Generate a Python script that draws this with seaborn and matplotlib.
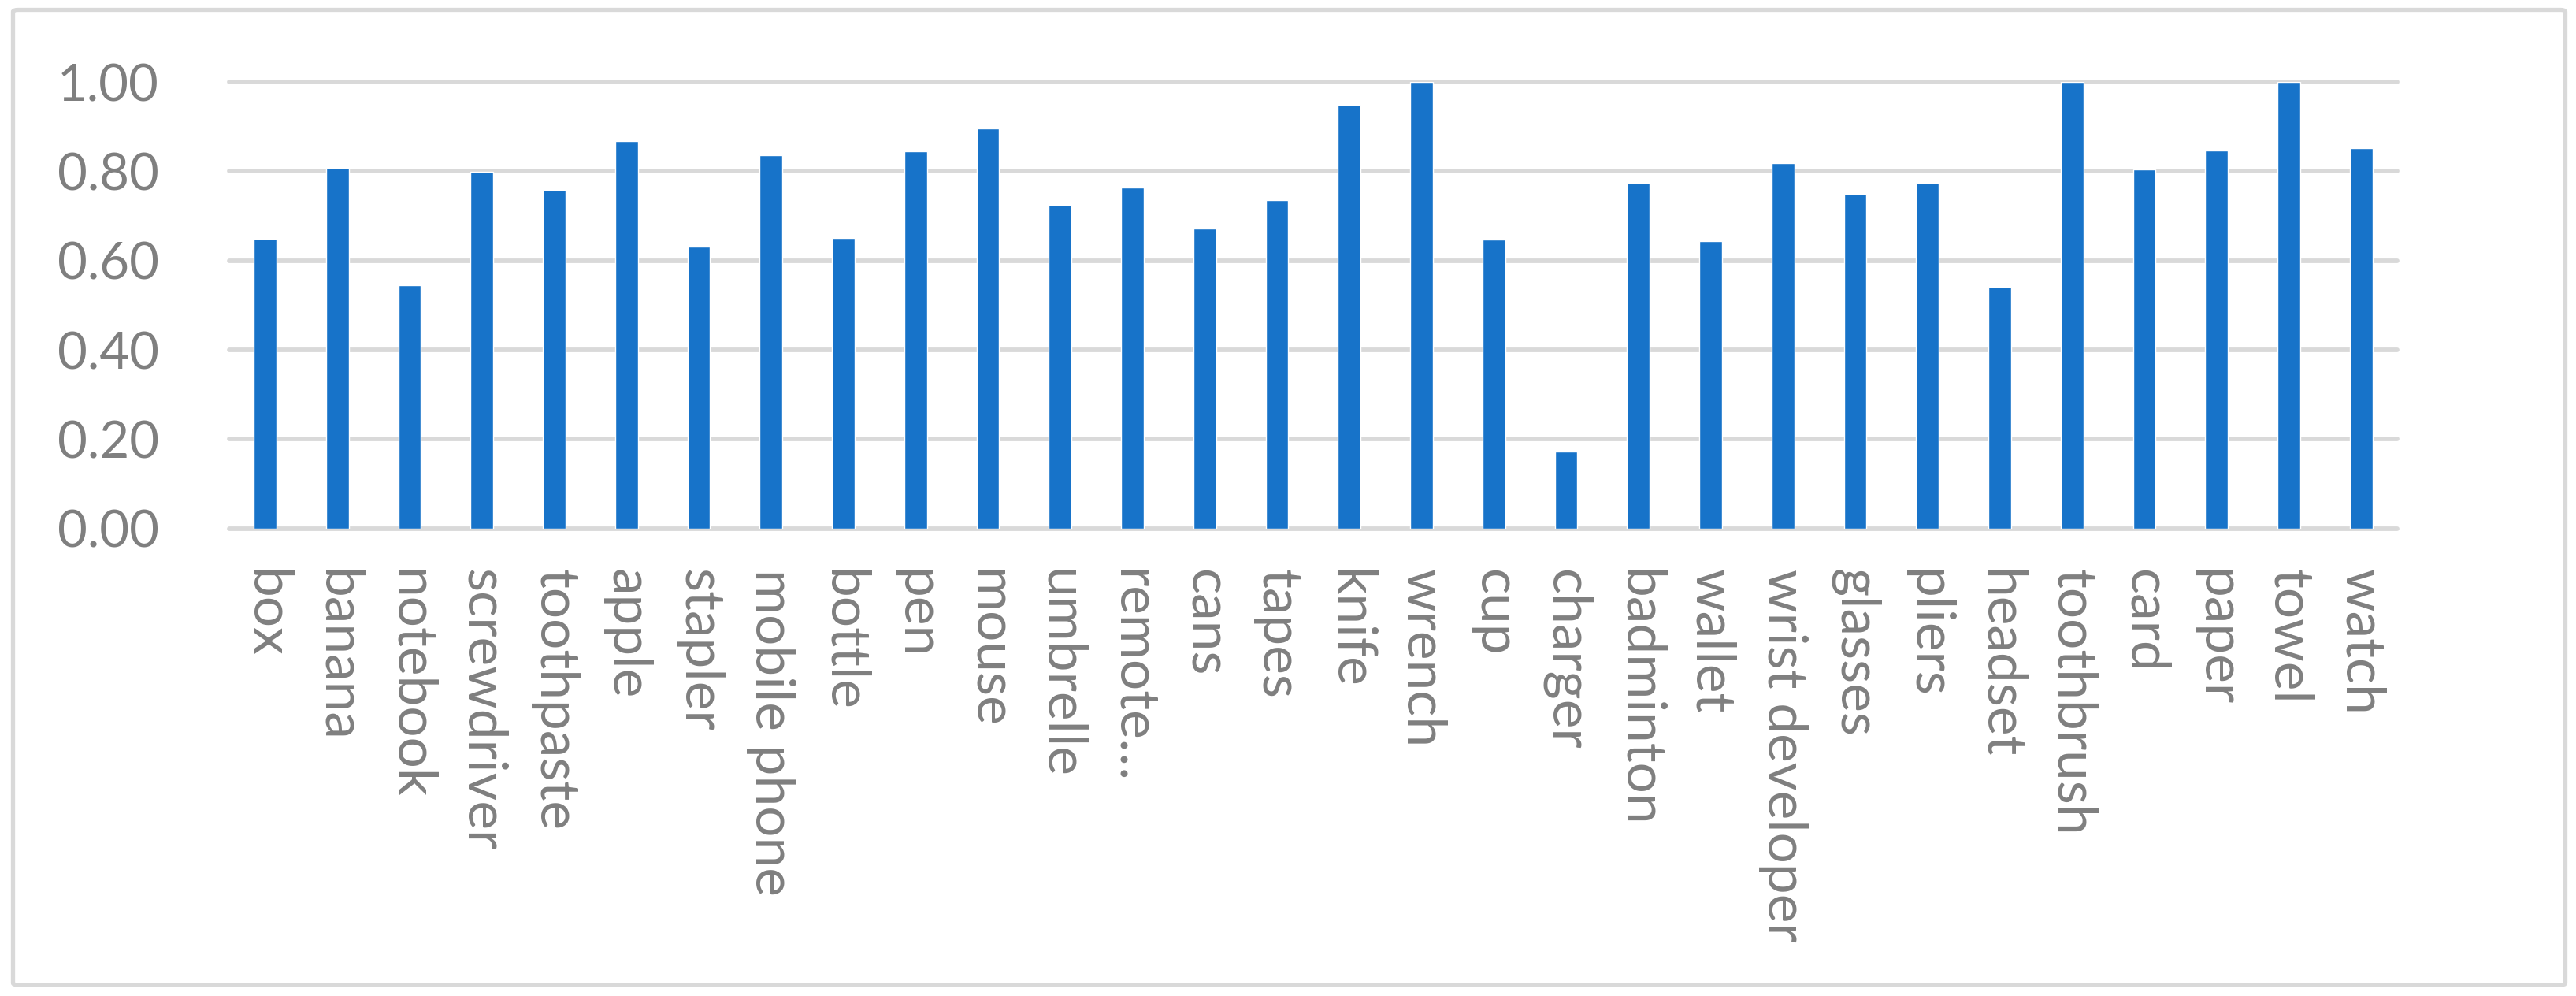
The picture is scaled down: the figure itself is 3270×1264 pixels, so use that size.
import seaborn as sns
import pandas as pd
import matplotlib.pyplot as plt
from matplotlib.patches import FancyBboxPatch

# object categories and their scores
objects = ["box", "banana", "notebook", "screwdriver", "toothpaste", "apple",
           "stapler", "mobile phone", "bottle", "pen", "mouse", "umbrelle",
           "remote\u2026", "cans", "tapes", "knife", "wrench", "cup", "charger",
           "badminton", "wallet", "wrist developer", "glasses", "pliers",
           "headset", "toothbrush", "card", "paper", "towel", "watch"]
scores = [0.648, 0.808, 0.544, 0.798, 0.758, 0.868, 0.631, 0.836, 0.650,
          0.844, 0.896, 0.725, 0.764, 0.671, 0.736, 0.949, 1.000, 0.647,
          0.173, 0.775, 0.643, 0.818, 0.749, 0.775, 0.541, 1.000, 0.804,
          0.846, 1.000, 0.851]
yticks = [0.0, 0.2, 0.4, 0.6, 0.8, 1.0]

df = pd.DataFrame({"object": objects, "score": scores})

sns.set_theme(style="white")
plt.rcParams['font.family'] = ['Lato', 'DejaVu Sans']

grey = '#7F7F7F'
line = '#D9D9D9'

fig = plt.figure(figsize=(32.7, 12.64), dpi=100)
ax = fig.add_axes([0.0889, 0.4694, 0.8417, 0.4483])

sns.barplot(data=df, x="object", y="score", color='#1773C9', width=0.314,
            saturation=1, ax=ax)

ax.set_ylim(0, 1.0)
ax.set_yticks(yticks)
ax.set_yticklabels(['%.2f' % v for v in yticks])
ax.set_xlim(-0.5, len(objects) - 0.5)
ax.set_xlabel('')
ax.set_ylabel('')

for s in ax.spines.values():
    s.set_visible(False)
ax.set_axisbelow(True)
ax.yaxis.grid(True, color=line, linewidth=4.2)
for gl in ax.get_ygridlines():
    gl.set_clip_on(False)
ax.xaxis.grid(False)

ax.tick_params(axis='y', length=0, pad=64, labelsize=47, labelcolor=grey)
ax.tick_params(axis='x', length=0, pad=37, labelsize=50, labelcolor=grey)
plt.setp(ax.get_xticklabels(), rotation=-90, ha='center', va='top')

# chart border
border = FancyBboxPatch((16.5 / 3270, 1 - 1250 / 1264), (3256.5 - 16.5) / 3270,
                        (1250 - 12.5) / 1264, boxstyle="round,pad=0,rounding_size=0.002",
                        transform=fig.transFigure, fill=False, edgecolor=line,
                        linewidth=3.8)
fig.patches.append(border)

fig.savefig('out.png', dpi=100, facecolor='white')
